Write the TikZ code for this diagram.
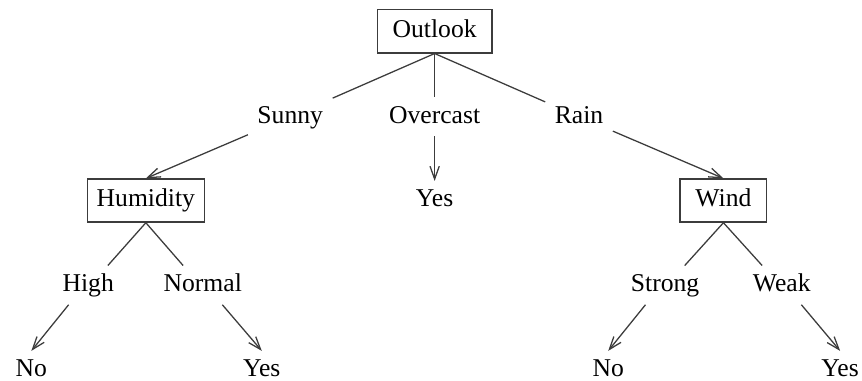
\documentclass[tikz,border=0pt]{standalone}
\usepackage{fontspec}
\setmainfont{Liberation Serif}
\usepackage{tikz}
\usetikzlibrary{arrows.meta}
\definecolor{inkgray}{HTML}{3C3C3C}

\begin{document}
\begin{tikzpicture}[>={Straight Barb[length=5pt,width=3.6pt]}, line width=0.5pt,
  attr/.style={draw=inkgray, rectangle, font=\normalsize, text height=7pt, text depth=2pt, minimum height=16.8pt, inner xsep=6pt},
  val/.style={font=\normalsize, text height=7pt, text depth=2pt, inner xsep=3.5pt, inner ysep=2.9pt},
  edge/.style={draw=inkgray}]
\useasboundingbox (0,0) rectangle (11.82,5.22);
\node[attr] (O) at (5.96,4.79) {Outlook};
\node[val] (S) at (3.98,3.62) {Sunny};
\node[val] (C) at (5.96,3.62) {Overcast};
\node[val] (R) at (7.94,3.62) {Rain};
\node[attr, inner xsep=3.6pt] (H) at (2.00,2.47) {Humidity};
\node[val] (Y0) at (5.96,2.47) {Yes};
\node[attr] (W) at (9.92,2.47) {Wind};
\node[val] (Hi) at (1.21,1.31) {High};
\node[val] (Nm) at (2.78,1.31) {Normal};
\node[val] (St) at (9.12,1.31) {Strong};
\node[val] (Wk) at (10.72,1.31) {Weak};
\node[val] (N1) at (0.43,0.14) {No};
\node[val] (Y1) at (3.59,0.14) {Yes};
\node[val] (N2) at (8.34,0.14) {No};
\node[val] (Y2) at (11.52,0.14) {Yes};
\foreach \v in {S,R} {
  \draw[edge] (O.south) -- (\v);
}
\draw[edge] (O.south) -- (C.north);
\draw[edge, ->] (C.south) -- (Y0.north);
\draw[edge, ->] (S) -- (H.north);
\draw[edge, ->] (R) -- (W.north);
\foreach \a/\l/\r in {H/Hi/Nm, W/St/Wk} {
  \draw[edge] (\a.south) -- (\l.45);
  \draw[edge] (\a.south) -- (\r.135);
}
\foreach \v/\leaf in {Hi/N1, St/N2} {
  \draw[edge, ->] (\v.-135) -- (\leaf.north);
}
\foreach \v/\leaf in {Nm/Y1, Wk/Y2} {
  \draw[edge, ->] (\v.-45) -- (\leaf.north);
}
\end{tikzpicture}
\end{document}
